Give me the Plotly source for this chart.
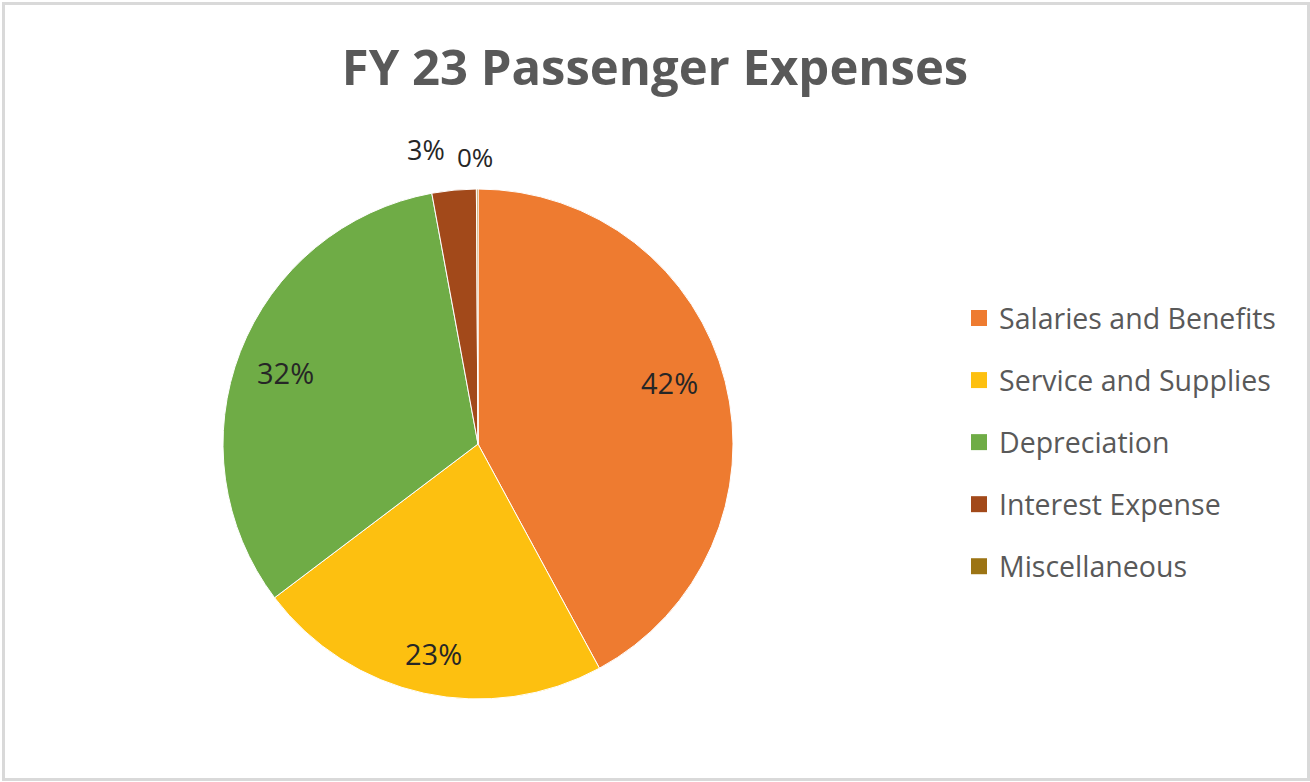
import plotly.graph_objects as go

labels = ["Salaries and Benefits", "Service and Supplies", "Depreciation", "Interest Expense", "Miscellaneous"]
values = [42.1, 22.6, 32.4, 2.8, 0.1]
colors = ["#EE7B30", "#FDC010", "#6FAC46", "#A2491A", "#9C7414"]
# data label placement (pixel centres, Excel style)
label_px = [(669, 382), (433, 653), (285, 372), (426, 150), (475, 157)]
label_size = [29, 29, 29, 27, 26]

W, H = 1310, 782
total = sum(values)

fig = go.Figure()
fig.add_trace(go.Pie(
    labels=labels, values=values, sort=False, direction="clockwise", rotation=0,
    marker=dict(colors=colors, line=dict(color="white", width=1)),
    textinfo="none",
    showlegend=False, hoverinfo="label+percent",
    domain=dict(x=[223 / W, 733 / W], y=[1 - 699 / H, 1 - 189 / H]),
))
for lab, col in zip(labels, colors):
    fig.add_trace(go.Scatter(
        x=[None], y=[None], mode="markers", name=lab, legendgroup=lab,
        marker=dict(symbol="square", size=17, color=col),
    ))

annotations = []
for v, (px, py), fs in zip(values, label_px, label_size):
    annotations.append(dict(
        text=f"{round(v / total * 100)}%", x=px / W, y=1 - py / H,
        xref="paper", yref="paper", xanchor="center", yanchor="middle",
        showarrow=False, font=dict(family="Open Sans", size=fs, color="#262626"),
    ))

fig.update_layout(
    width=W, height=H,
    margin=dict(l=0, r=0, t=0, b=0),
    paper_bgcolor="white", plot_bgcolor="white",
    xaxis=dict(visible=False), yaxis=dict(visible=False),
    title=dict(text="<b>FY 23 Passenger Expenses</b>", x=0.5, xanchor="center",
               y=1 - 68 / H, yanchor="middle",
               font=dict(family="Open Sans", size=49, color="#595959")),
    legend=dict(x=959 / W, y=1 - 293 / H, xanchor="left", yanchor="top",
                font=dict(family="Open Sans", size=28.5, color="#595959"),
                tracegroupgap=22, itemwidth=30, bgcolor="rgba(0,0,0,0)"),
    annotations=annotations,
    shapes=[dict(type="rect", xref="paper", yref="paper",
                 x0=3.5 / W, x1=1308.5 / W, y0=1 - 779.5 / H, y1=1 - 3.5 / H,
                 line=dict(color="#D9D9D9", width=3))],
)
fig.write_html("out.html", post_script="document.body.style.margin='0';",
               config={"displayModeBar": False})
